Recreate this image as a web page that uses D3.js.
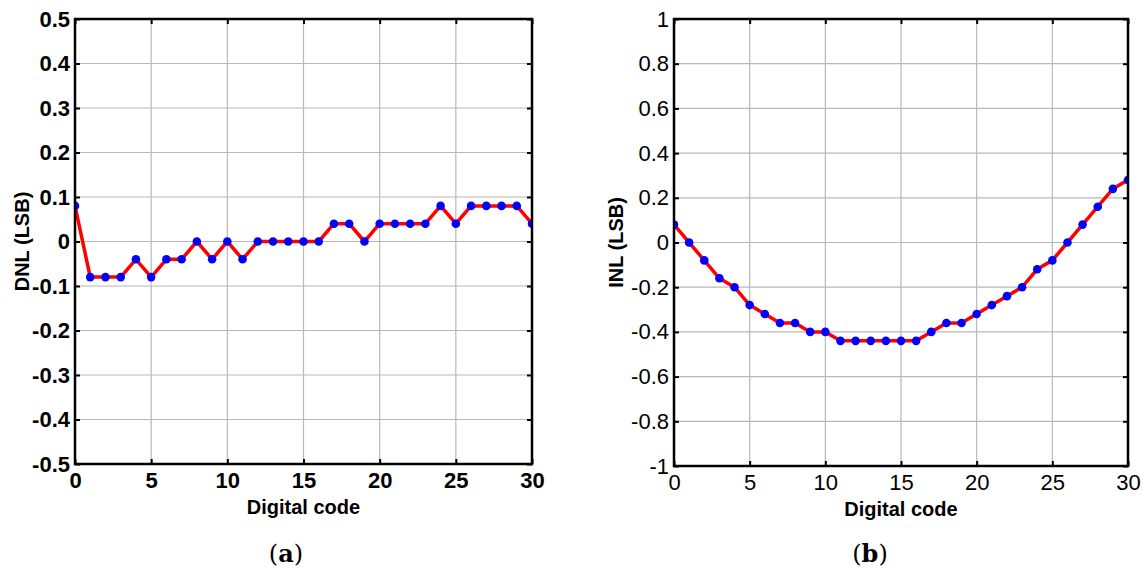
<!DOCTYPE html>
<html><head><meta charset="utf-8">
<script src="https://cdn.jsdelivr.net/npm/d3@7"></script>
<style>body{margin:0;background:#fff}svg{display:block}</style>
</head><body>
<svg id="c" width="1143" height="572"></svg>
<script>
const codes = d3.range(0, 31);
const dnl = [0.08,-0.08,-0.08,-0.08,-0.04,-0.08,-0.04,-0.04,0,-0.04,0,-0.04,0,0,0,0,0,0.04,0.04,0,0.04,0.04,0.04,0.04,0.08,0.04,0.08,0.08,0.08,0.08,0.04];
const inl = [0.08,0,-0.08,-0.16,-0.2,-0.28,-0.32,-0.36,-0.36,-0.40,-0.40,-0.44,-0.44,-0.44,-0.44,-0.44,-0.44,-0.40,-0.36,-0.36,-0.32,-0.28,-0.24,-0.2,-0.12,-0.08,0,0.08,0.16,0.24,0.28];
const xTicks = [0,5,10,15,20,25,30];
const dnlTicks = [-0.5,-0.4,-0.3,-0.2,-0.1,0,0.1,0.2,0.3,0.4,0.5];
const inlTicks = [-1,-0.8,-0.6,-0.4,-0.2,0,0.2,0.4,0.6,0.8,1];

const svg = d3.select("#c");
const fmt = d => String(+d.toFixed(1));
const SANS = "Liberation Sans, Arial, sans-serif";

function panel(o){
  const g = svg.append("g");
  const x = d3.scaleLinear().domain([0,30]).range([o.x0,o.x1]);
  const y = d3.scaleLinear().domain(o.ydom).range([o.y1,o.y0]);
  const clipId = "clip"+o.id;
  svg.append("clipPath").attr("id",clipId).append("rect")
    .attr("x",o.x0).attr("y",o.y0).attr("width",o.x1-o.x0).attr("height",o.y1-o.y0);
  // grid
  g.selectAll(".gx").data(xTicks).join("line")
    .attr("x1",d=>x(d)).attr("x2",d=>x(d)).attr("y1",o.y0).attr("y2",o.y1)
    .attr("stroke","#b8b8b8").attr("stroke-width",1.2);
  g.selectAll(".gy").data(o.yticks).join("line")
    .attr("y1",d=>y(d)).attr("y2",d=>y(d)).attr("x1",o.x0).attr("x2",o.x1)
    .attr("stroke","#b8b8b8").attr("stroke-width",1.2);
  // axes with inward ticks
  const axB = g.append("g").attr("transform",`translate(0,${o.y1})`)
    .call(d3.axisBottom(x).tickValues(xTicks).tickSizeInner(-5).tickSizeOuter(0).tickPadding(8).tickFormat(d3.format("d")));
  const axT = g.append("g").attr("transform",`translate(0,${o.y0})`)
    .call(d3.axisTop(x).tickValues(xTicks).tickSizeInner(-5).tickSizeOuter(0).tickFormat(""));
  const axL = g.append("g").attr("transform",`translate(${o.x0},0)`)
    .call(d3.axisLeft(y).tickValues(o.yticks).tickSizeInner(-5).tickSizeOuter(0).tickPadding(o.ypad).tickFormat(fmt));
  const axR = g.append("g").attr("transform",`translate(${o.x1},0)`)
    .call(d3.axisRight(y).tickValues(o.yticks).tickSizeInner(-5).tickSizeOuter(0).tickFormat(""));
  [axB,axT,axL,axR].forEach(a=>{
    a.select(".domain").remove();
    a.selectAll(".tick line").attr("stroke","#000").attr("stroke-width",2);
    a.selectAll("text").attr("font-family",SANS)
      .attr("font-size",o.tickSize).attr("font-weight",o.tickWeight).attr("fill","#000");
  });
  // data
  const line = d3.line().x((d,i)=>x(codes[i])).y(d=>y(d));
  const dg = g.append("g").attr("clip-path",`url(#${clipId})`);
  dg.append("path").datum(o.data).attr("d",line).attr("fill","none")
    .attr("stroke","#ff0000").attr("stroke-width",3.5).attr("stroke-linejoin","round");
  dg.selectAll("circle").data(o.data).join("circle")
    .attr("cx",(d,i)=>x(codes[i])).attr("cy",d=>y(d)).attr("r",4.3).attr("fill","#0000ff");
  // box
  g.append("rect").attr("x",o.x0).attr("y",o.y0).attr("width",o.x1-o.x0).attr("height",o.y1-o.y0)
    .attr("fill","none").attr("stroke","#000").attr("stroke-width",2.5);
  // titles
  g.append("text").attr("x",(o.x0+o.x1)/2).attr("y",o.y1+50).attr("text-anchor","middle")
    .attr("font-family",SANS).attr("font-weight","bold").attr("font-size",20)
    .text("Digital code");
  g.append("text").attr("transform",`translate(${o.ylabX},${(o.y0+o.y1)/2}) rotate(-90)`)
    .attr("text-anchor","middle")
    .attr("font-family",SANS).attr("font-weight","bold").attr("font-size",20)
    .text(o.ylabel);
  const t = g.append("text").attr("x",o.capX).attr("y",562).attr("text-anchor","middle")
    .attr("font-family","DejaVu Serif, Liberation Serif, serif").attr("font-size",24);
  t.append("tspan").text("(");
  t.append("tspan").attr("font-weight","bold").text(o.cap);
  t.append("tspan").text(")");
}

panel({id:"a", x0:75, x1:532, y0:19, y1:464, ydom:[-0.5,0.5], yticks:dnlTicks, data:dnl,
  ypad:5, tickSize:22, tickWeight:"bold", ylabel:"DNL (LSB)", ylabX:29, cap:"a", capX:286});
panel({id:"b", x0:674, x1:1128, y0:19, y1:466, ydom:[-1,1], yticks:inlTicks, data:inl,
  ypad:5, tickSize:22, tickWeight:"normal", ylabel:"INL (LSB)", ylabX:623, cap:"b", capX:870});
</script>
</body></html>
